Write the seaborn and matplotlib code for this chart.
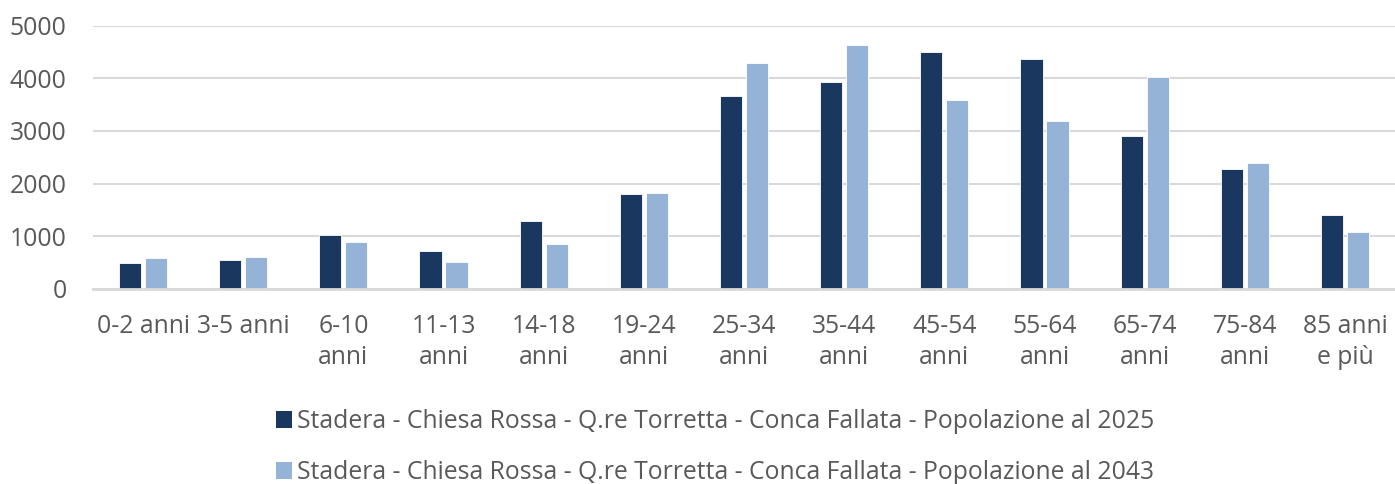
import matplotlib
matplotlib.use("Agg")
import matplotlib.pyplot as plt
import seaborn as sns
import pandas as pd
from matplotlib.patches import Patch

# Age classes shown on the x axis (wrapped labels)
categories = ["0-2 anni", "3-5 anni", "6-10\nanni", "11-13\nanni", "14-18\nanni",
              "19-24\nanni", "25-34\nanni", "35-44\nanni", "45-54\nanni",
              "55-64\nanni", "65-74\nanni", "75-84\nanni", "85 anni\ne più"]

pop_2025 = [489, 538, 1020, 722, 1279, 1798, 3665, 3937, 4503, 4375, 2909, 2274, 1398]
pop_2043 = [584, 595, 893, 500, 850, 1823, 4293, 4642, 3589, 3189, 4019, 2389, 1080]

series_names = [
    "Stadera - Chiesa Rossa - Q.re Torretta - Conca Fallata - Popolazione al 2025",
    "Stadera - Chiesa Rossa - Q.re Torretta - Conca Fallata - Popolazione al 2043",
]
colors = ["#1a3760", "#95b3d7"]

df = pd.DataFrame({
    "Classe": categories * 2,
    "Valore": pop_2025 + pop_2043,
    "Serie": [series_names[0]] * len(categories) + [series_names[1]] * len(categories),
})

sns.set_theme(style="white")
plt.rcParams["font.family"] = ["Open Sans", "DejaVu Sans"]

fig = plt.figure(figsize=(13.95, 4.84), dpi=100)
ax = fig.add_axes([93 / 1395, 1 - 288.7 / 484, 1 - 93 / 1395, (288.7 - 25.7) / 484])

sns.barplot(data=df, x="Classe", y="Valore", hue="Serie", palette=colors,
            saturation=1, width=0.52, gap=0.15, edgecolor="white", linewidth=0.6,
            legend=False, ax=ax)

ax.set_xlim(-0.5, len(categories) - 0.5)
ax.set_ylim(0, 5000)
ax.set_yticks([0, 1000, 2000, 3000, 4000, 5000])
ax.yaxis.grid(True, color="#d9d9d9", linewidth=1.5)
ax.set_axisbelow(True)
for s in ["top", "right", "left"]:
    ax.spines[s].set_visible(False)
ax.spines["bottom"].set_color("#d9d9d9")
ax.spines["bottom"].set_linewidth(2)
ax.set_xlabel("")
ax.set_ylabel("")
ax.tick_params(axis="both", length=0, labelsize=17.8, labelcolor="#595959")
ax.tick_params(axis="x", pad=18)
ax.tick_params(axis="y", pad=19)
for lbl in ax.get_xticklabels():
    lbl.set_linespacing(1.35)

handles = [Patch(facecolor=c, edgecolor="none") for c in colors]
fig.legend(handles, series_names, loc="center left",
           bbox_to_anchor=(254 / 1395, 1 - 447 / 484), frameon=False,
           fontsize=17.8, labelcolor="#595959", handlelength=0.65, handleheight=0.65,
           handletextpad=0.2, labelspacing=1.05)

fig.savefig("out.png", dpi=100)
